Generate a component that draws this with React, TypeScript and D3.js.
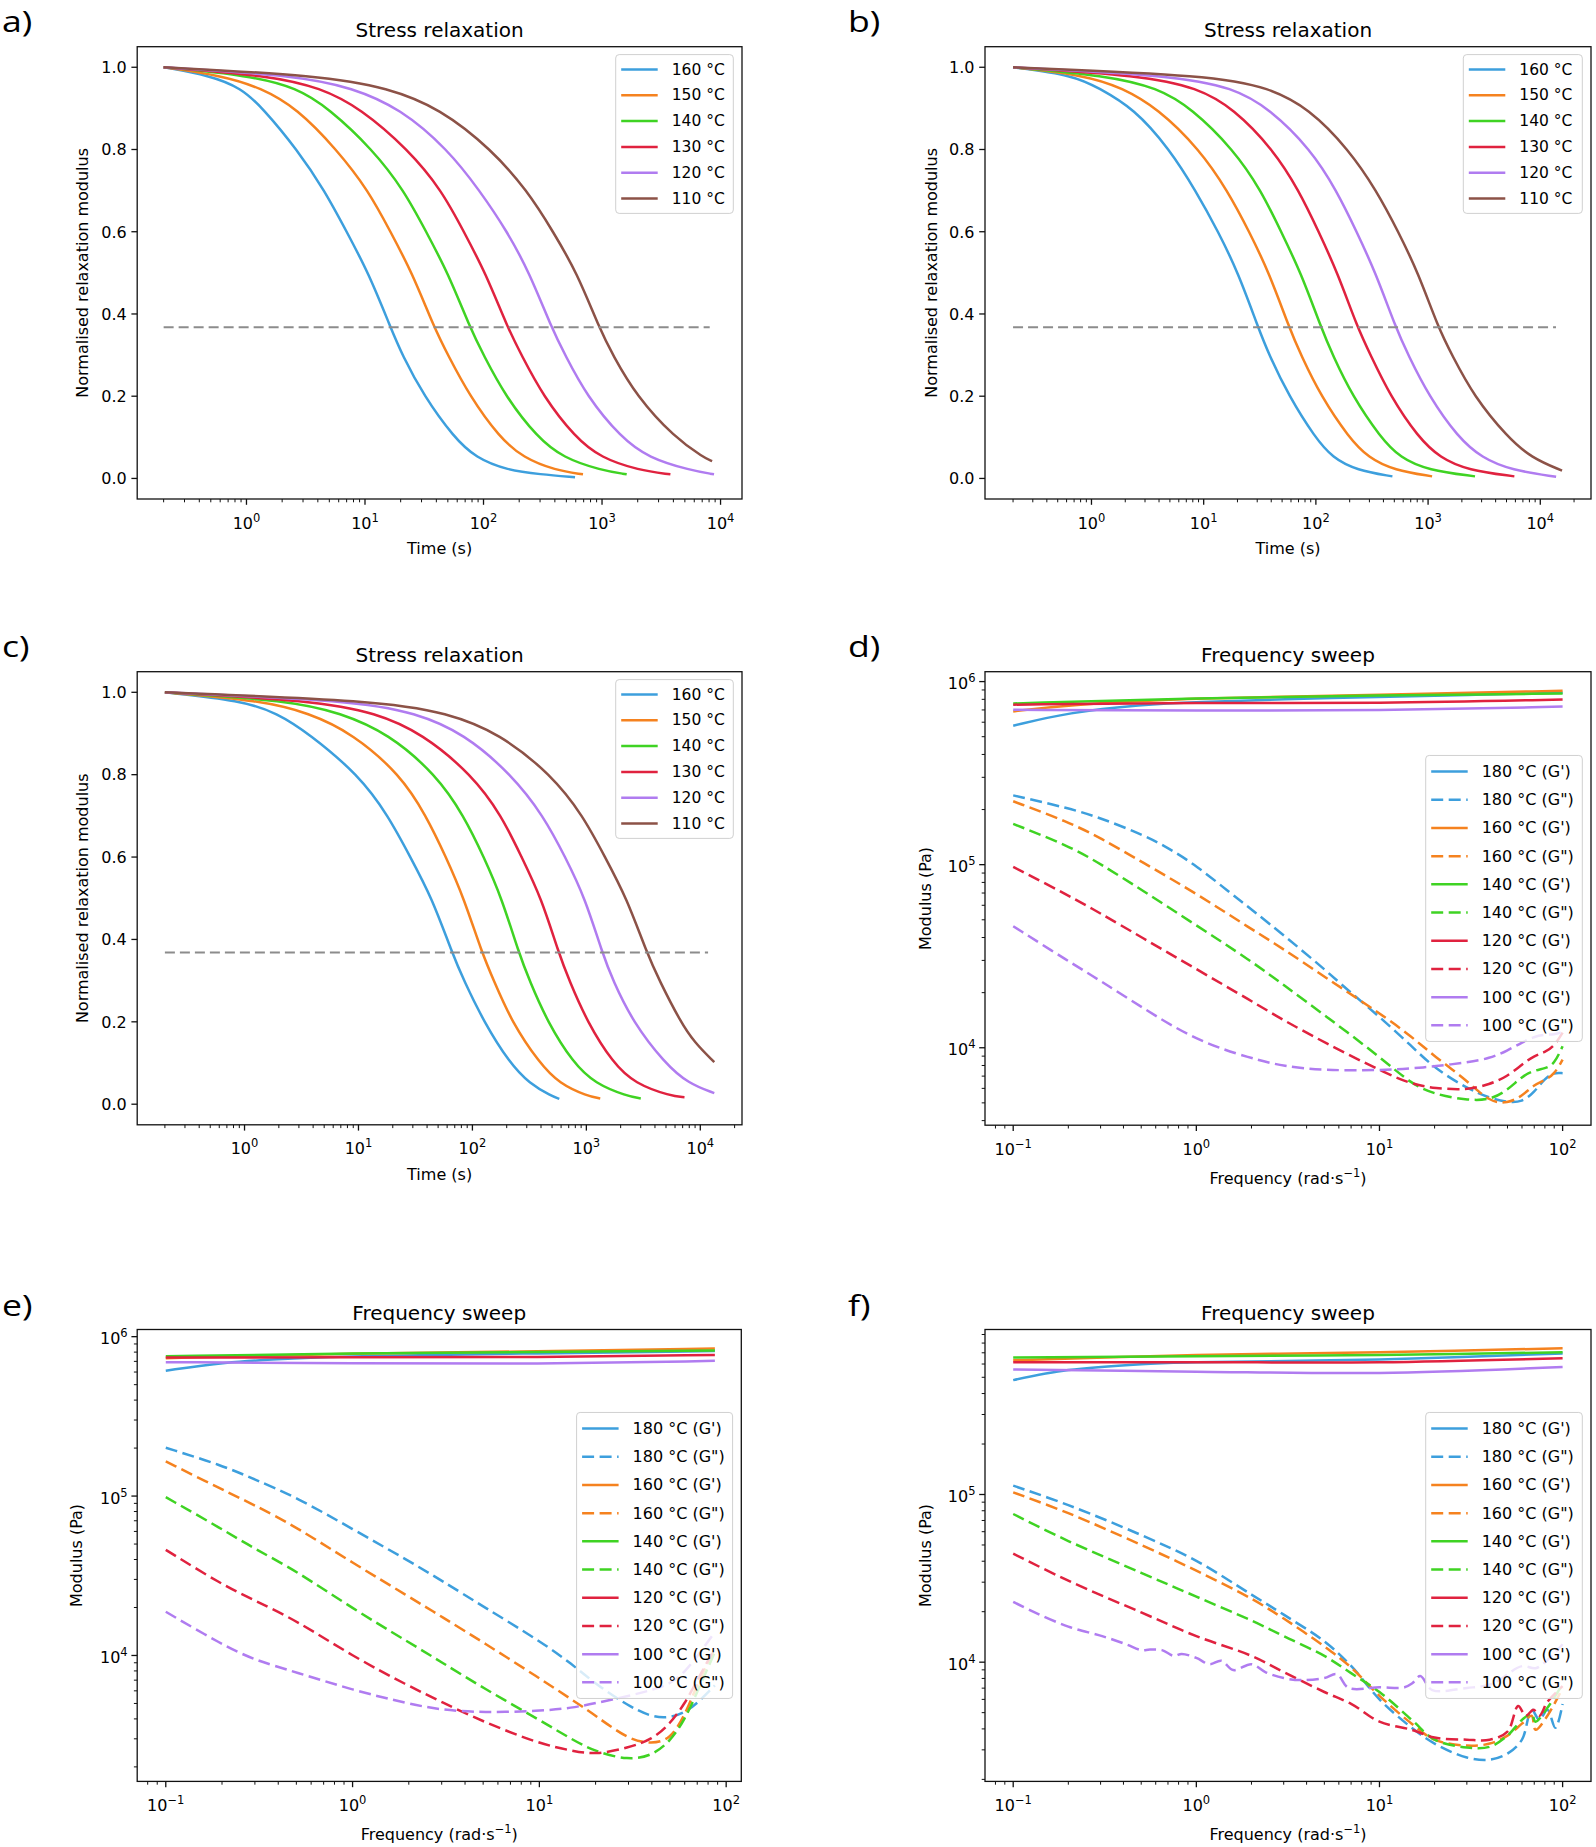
import React from 'react';
import * as d3 from 'd3';

type Pt = [number, number];

// ---------- labels / categories ----------
const RELAX_LABELS = ['160 °C', '150 °C', '140 °C', '130 °C', '120 °C', '110 °C'];
const RELAX_COLORS = ['#3d9fdd', '#f5821f', '#3fd323', '#e0223f', '#b07cf0', '#8c5247'];
const SWEEP_TEMPS = ['180 °C', '160 °C', '140 °C', '120 °C', '100 °C'];
const SWEEP_COLORS = ['#3d9fdd', '#f5821f', '#3fd323', '#e0223f', '#b07cf0'];

const RELAX_Y_TICKS = [0, 0.2, 0.4, 0.6, 0.8, 1.0];
const TIME_TICKS = [1, 10, 100, 1000, 10000];
const FREQ_TICKS = [0.1, 1, 10, 100];
const MOD_TICKS = [1e4, 1e5, 1e6];

// ---------- stress relaxation data: [time (s), normalised modulus] ----------
const relaxA: Pt[][] = [
  [[0.2, 1], [0.49, 0.98], [0.9, 0.95], [1.38, 0.9], [2.67, 0.8], [4.57, 0.7], [7.0, 0.6], [10.7, 0.5], [16.4, 0.368], [20.6, 0.3], [31.5, 0.2], [56.2, 0.1], [86, 0.05], [159, 0.02], [300, 0.01], [592, 0.003]],
  [[0.2, 1], [0.615, 0.98], [1.33, 0.95], [2.67, 0.9], [5.77, 0.8], [10.7, 0.7], [16.4, 0.6], [25, 0.5], [38.2, 0.368], [50.1, 0.3], [76.6, 0.2], [136, 0.1], [217, 0.05], [403, 0.02], [691, 0.01]],
  [[0.2, 1], [1.055, 0.98], [2.67, 0.95], [4.94, 0.9], [11.6, 0.8], [21.4, 0.7], [32.8, 0.6], [50.1, 0.5], [76.6, 0.368], [100, 0.3], [153, 0.2], [284, 0.1], [470, 0.05], [978, 0.02], [1615, 0.01]],
  [[0.2, 1], [1.55, 0.98], [4.24, 0.95], [9.16, 0.9], [23.1, 0.8], [44.6, 0.7], [68.2, 0.6], [104, 0.5], [159, 0.368], [209, 0.3], [319, 0.2], [592, 0.1], [978, 0.05], [2036, 0.02], [3776, 0.01]],
  [[0.2, 1], [2.67, 0.98], [7.85, 0.95], [19.8, 0.9], [50.1, 0.8], [92.9, 0.7], [159, 0.6], [244, 0.5], [373, 0.368], [488, 0.3], [746, 0.2], [1439, 0.1], [2471, 0.05], [5554, 0.02], [8810, 0.01]],
  [[0.2, 1], [4.24, 0.98], [15.7, 0.95], [42.9, 0.9], [117, 0.8], [234, 0.7], [387, 0.6], [615, 0.5], [941, 0.368], [1233, 0.3], [1959, 0.2], [4076, 0.1], [7280, 0.05], [8490, 0.042]],
];
const relaxB: Pt[][] = [
  [[0.2, 1], [0.7, 0.98], [1.15, 0.95], [2.39, 0.9], [4.99, 0.8], [8.47, 0.7], [13.5, 0.6], [20.3, 0.5], [30.5, 0.368], [38.3, 0.3], [57.6, 0.2], [98, 0.1], [141, 0.05], [231, 0.02], [481, 0.005]],
  [[0.2, 1], [0.9, 0.98], [1.875, 0.95], [3.9, 0.9], [9.2, 0.8], [16.3, 0.7], [25.5, 0.6], [38.3, 0.5], [57.6, 0.368], [73.6, 0.3], [111, 0.2], [196, 0.1], [294, 0.05], [500, 0.02], [1086, 0.005]],
  [[0.2, 1], [1.35, 0.98], [3.9, 0.95], [7.81, 0.9], [18.4, 0.8], [32.6, 0.7], [49, 0.6], [73.6, 0.5], [111, 0.368], [141, 0.3], [212, 0.2], [376, 0.1], [565, 0.05], [1000, 0.02], [2620, 0.005]],
  [[0.2, 1], [2.82, 0.98], [8.83, 0.95], [18.4, 0.9], [41.6, 0.8], [70.7, 0.7], [106, 0.6], [156, 0.5], [234, 0.368], [307, 0.3], [461, 0.2], [816, 0.1], [1278, 0.05], [2264, 0.02], [5875, 0.005]],
  [[0.2, 1], [5.41, 0.98], [18.4, 0.95], [38.3, 0.9], [90.2, 0.8], [153, 0.7], [231, 0.6], [341, 0.5], [513, 0.368], [665, 0.3], [1017, 0.2], [1845, 0.1], [3010, 0.05], [5550, 0.02], [13840, 0.004]],
  [[0.2, 1], [12.2, 0.98], [38.3, 0.95], [86.6, 0.9], [196, 0.8], [347, 0.7], [543, 0.6], [816, 0.5], [1227, 0.368], [1633, 0.3], [2558, 0.2], [5113, 0.1], [8350, 0.05], [15630, 0.019]],
];
const relaxC: Pt[][] = [
  [[0.2, 1], [0.94, 0.98], [1.93, 0.95], [3.67, 0.9], [10, 0.8], [18.3, 0.7], [28.5, 0.6], [44.3, 0.5], [66.2, 0.368], [84.2, 0.3], [126, 0.2], [212, 0.1], [317, 0.05], [493, 0.02], [579, 0.013]],
  [[0.2, 1], [1.4, 0.98], [3.67, 0.95], [8.89, 0.9], [23.3, 0.8], [39.3, 0.7], [58.6, 0.6], [84.2, 0.5], [121, 0.368], [154, 0.3], [221, 0.2], [387, 0.1], [579, 0.05], [1016, 0.02], [1324, 0.014]],
  [[0.2, 1], [2.46, 0.98], [6.98, 0.95], [18.3, 0.9], [48, 0.8], [84.2, 0.7], [126, 0.6], [181, 0.5], [255, 0.368], [317, 0.3], [455, 0.2], [767, 0.1], [1193, 0.05], [2265, 0.02], [3004, 0.014]],
  [[0.2, 1], [3.98, 0.98], [14.4, 0.95], [36.2, 0.9], [98.9, 0.8], [181, 0.7], [270, 0.6], [404, 0.5], [570, 0.368], [708, 0.3], [1016, 0.2], [1711, 0.1], [2663, 0.05], [5483, 0.02], [7265, 0.017]],
  [[0.2, 1], [8.89, 0.98], [32.1, 0.95], [84.2, 0.9], [221, 0.8], [420, 0.7], [653, 0.6], [976, 0.5], [1377, 0.368], [1711, 0.3], [2557, 0.2], [4862, 0.1], [7872, 0.05], [13270, 0.027]],
  [[0.2, 1], [14.4, 0.98], [61.1, 0.95], [173, 0.9], [493, 0.8], [937, 0.7], [1458, 0.6], [2265, 0.5], [3388, 0.368], [4380, 0.3], [6703, 0.2], [8879, 0.15], [13270, 0.102]],
];
const thresholdA: Pt[] = [[0.2, 0.368], [8100, 0.368]];
const thresholdB: Pt[] = [[0.2, 0.368], [13800, 0.368]];
const thresholdC: Pt[] = [[0.2, 0.368], [11700, 0.368]];

// ---------- frequency sweep data: [frequency (rad/s), modulus (Pa)] ----------
const sweepD_Gp: Pt[][] = [
  [[0.1, 574e3], [0.2, 678e3], [0.5, 748e3], [1, 775e3], [3, 800e3], [10, 826e3], [30, 845e3], [100, 869e3]],
  [[0.1, 687e3], [0.2, 748e3], [1, 815e3], [10, 847e3], [100, 891e3]],
  [[0.1, 759e3], [1, 815e3], [10, 840e3], [100, 861e3]],
  [[0.1, 748e3], [1, 768e3], [10, 759e3], [100, 798e3]],
  [[0.1, 701e3], [1, 694e3], [10, 694e3], [100, 730e3]],
];
const sweepD_Gpp: Pt[][] = [
  [[0.1, 239e3], [0.2, 204e3], [0.3, 180e3], [0.5, 147e3], [0.7, 124e3], [1, 98.8e3], [1.5, 71.3e3], [2, 57e3], [3, 41.2e3], [5, 26.9e3], [7, 19.9e3], [10, 14.8e3], [15, 10.2e3], [20, 7.71e3], [30, 6.01e3], [40, 5.3e3], [50, 5.04e3], [60, 5.04e3], [70, 5.71e3], [80, 6.81e3], [90, 7.33e3], [100, 7.26e3]],
  [[0.1, 222e3], [0.2, 171e3], [0.3, 140e3], [0.5, 104e3], [1, 69.6e3], [2, 44.4e3], [3, 34.6e3], [5, 24.4e3], [10, 15.5e3], [15, 11.5e3], [20, 8.96e3], [30, 6.64e3], [40, 5.04e3], [50, 4.97e3], [60, 5.43e3], [70, 6.31e3], [80, 6.64e3], [90, 7.16e3], [100, 8.6e3]],
  [[0.1, 167e3], [0.2, 127e3], [0.3, 101e3], [0.5, 73.1e3], [1, 46.6e3], [2, 29.7e3], [3, 22e3], [5, 15.1e3], [10, 8.96e3], [15, 6.31e3], [20, 5.57e3], [30, 5.17e3], [40, 5.17e3], [50, 5.86e3], [60, 6.98e3], [70, 7.52e3], [80, 7.71e3], [90, 8.11e3], [100, 10.2e3]],
  [[0.1, 97.3e3], [0.2, 67.9e3], [0.3, 54.2e3], [0.5, 40.2e3], [1, 26.9e3], [2, 18e3], [3, 14.1e3], [5, 10.7e3], [10, 7.52e3], [15, 6.31e3], [20, 6.01e3], [30, 5.86e3], [40, 6.31e3], [50, 6.98e3], [60, 8.11e3], [70, 9.05e3], [80, 9.42e3], [90, 10.2e3], [100, 12.1e3]],
  [[0.1, 46.1e3], [0.2, 29.7e3], [0.3, 23.2e3], [0.5, 16.7e3], [1, 10.9e3], [2, 8.74e3], [3, 7.91e3], [5, 7.52e3], [10, 7.52e3], [15, 7.71e3], [20, 7.91e3], [30, 8.31e3], [40, 8.74e3], [50, 9.65e3], [60, 10.7e3], [70, 11.5e3], [80, 11.8e3], [90, 11.8e3], [100, 12.2e3]],
];
const sweepE_Gp: Pt[][] = [
  [[0.1, 611e3], [0.2, 692e3], [0.5, 733e3], [1, 755e3], [10, 786e3], [87, 813e3]],
  [[0.1, 733e3], [1, 786e3], [10, 809e3], [87, 842e3]],
  [[0.1, 755e3], [1, 786e3], [10, 800e3], [87, 820e3]],
  [[0.1, 740e3], [1, 742e3], [10, 742e3], [87, 768e3]],
  [[0.1, 692e3], [1, 681e3], [10, 673e3], [87, 705e3]],
];
const sweepE_Gpp: Pt[][] = [
  [[0.1, 201e3], [0.2, 156e3], [0.3, 127e3], [0.5, 98.4e3], [1, 62.1e3], [2, 39.2e3], [3, 29.5e3], [5, 20.3e3], [10, 12.4e3], [15, 8.81e3], [20, 6.61e3], [30, 4.82e3], [40, 4.1e3], [50, 4.06e3], [60, 4.4e3], [70, 5.0e3], [87, 6.5e3]],
  [[0.1, 165e3], [0.2, 110e3], [0.3, 87.6e3], [0.5, 63.9e3], [1, 38.1e3], [2, 23.4e3], [3, 17.5e3], [5, 12.1e3], [10, 7.21e3], [15, 5.26e3], [20, 4.2e3], [30, 2.96e3], [40, 2.79e3], [50, 2.96e3], [60, 4.18e3], [70, 6.61e3], [87, 11.1e3]],
  [[0.1, 98.4e3], [0.2, 62.1e3], [0.3, 46.6e3], [0.5, 33.9e3], [1, 19.7e3], [2, 12.1e3], [3, 9.07e3], [5, 6.25e3], [10, 3.95e3], [15, 2.96e3], [20, 2.49e3], [30, 2.2e3], [40, 2.35e3], [50, 2.88e3], [60, 3.95e3], [70, 5.89e3], [87, 10.5e3]],
  [[0.1, 46e3], [0.2, 27.8e3], [0.3, 22.1e3], [0.5, 16.6e3], [1, 9.89e3], [2, 6.43e3], [3, 5.1e3], [5, 3.84e3], [10, 2.79e3], [15, 2.52e3], [20, 2.38e3], [30, 2.64e3], [40, 2.96e3], [50, 3.72e3], [60, 4.97e3], [70, 7e3], [87, 11.1e3]],
  [[0.1, 18.8e3], [0.2, 11.7e3], [0.3, 9.33e3], [0.5, 7.85e3], [1, 6.07e3], [2, 4.97e3], [3, 4.55e3], [5, 4.38e3], [10, 4.48e3], [15, 4.69e3], [20, 5.02e3], [30, 5.57e3], [40, 6.07e3], [50, 6.61e3], [60, 7.85e3], [70, 9.89e3], [87, 14e3]],
];
const sweepF_Gp: Pt[][] = [
  [[0.1, 481e3], [0.2, 552e3], [0.5, 599e3], [1, 615e3], [10, 639e3], [100, 693e3]],
  [[0.1, 632e3], [1, 679e3], [10, 705e3], [100, 745e3]],
  [[0.1, 657e3], [1, 668e3], [10, 679e3], [100, 705e3]],
  [[0.1, 615e3], [1, 615e3], [10, 615e3], [100, 650e3]],
  [[0.1, 557e3], [1, 540e3], [10, 531e3], [100, 576e3]],
];
const sweepF_Gpp: Pt[][] = [
  [[0.1, 113e3], [0.2, 86.4e3], [0.5, 57.3e3], [1, 40.2e3], [2, 25.3e3], [3, 19.2e3], [5, 13.3e3], [7, 9.5e3], [10, 6.0e3], [15, 4.06e3], [20, 3.27e3], [30, 2.7e3], [40, 2.62e3], [50, 2.85e3], [60, 3.45e3], [67.7, 5.2e3], [74.7, 4.53e3], [82.6, 5.2e3], [91.3, 4.06e3], [100, 5.64e3]],
  [[0.1, 103e3], [0.2, 77.4e3], [0.5, 50e3], [1, 35.1e3], [2, 23.9e3], [3, 18.2e3], [5, 12.4e3], [7, 9.3e3], [10, 6.3e3], [15, 4.3e3], [20, 3.45e3], [30, 3.18e3], [40, 3.27e3], [50, 3.65e3], [60, 4.3e3], [67.7, 4.79e3], [71.1, 3.95e3], [82.6, 4.79e3], [100, 7.02e3]],
  [[0.1, 76.5e3], [0.2, 52.8e3], [0.5, 34.1e3], [1, 24.6e3], [2, 17.7e3], [3, 14.3e3], [5, 10.9e3], [7, 8.6e3], [10, 6.64e3], [15, 4.53e3], [20, 3.45e3], [30, 3.1e3], [40, 3.13e3], [50, 3.65e3], [60, 4.53e3], [67.7, 4.92e3], [71.1, 4.42e3], [82.6, 5.34e3], [100, 7.41e3]],
  [[0.1, 44.4e3], [0.2, 30.6e3], [0.5, 19.8e3], [1, 14.3e3], [2, 10.9e3], [3, 8.73e3], [5, 6.64e3], [7, 5.64e3], [10, 4.42e3], [15, 3.95e3], [20, 3.55e3], [30, 3.45e3], [40, 3.45e3], [50, 3.85e3], [57.2, 5.48e3], [62.8, 4.79e3], [69.4, 5.2e3], [74.7, 4.79e3], [82.6, 5.8e3], [100, 7.2e3]],
  [[0.1, 22.9e3], [0.131, 19.8e3], [0.2, 16.3e3], [0.306, 14.3e3], [0.413, 12.8e3], [0.5, 11.8e3], [0.558, 11.9e3], [0.649, 11.8e3], [0.754, 10.9e3], [0.832, 11.2e3], [1, 10.6e3], [1.18, 9.73e3], [1.37, 10.2e3], [1.59, 8.97e3], [2, 9.73e3], [2.38, 8.73e3], [3, 8.04e3], [3.72, 7.82e3], [5, 8.04e3], [5.85, 8.49e3], [6.79, 7.02e3], [10, 7.08e3], [13.7, 7.08e3], [15.1, 7.48e3], [16.7, 8.26e3], [19.4, 6.82e3], [30, 7.02e3], [41, 7.41e3], [60, 9.47e3], [71.1, 9.2e3], [82.6, 10.3e3], [100, 12.8e3]],
];

// ---------- layout ----------
const FONT = "'DejaVu Sans', 'Noto Sans', sans-serif";
const LETTER_FONT = "'Open Sans', 'Lato', sans-serif";

interface PanelCfg {
  letter: string; lx: number; ly: number;
  left: number; top: number; right: number; bottom: number;
  kind: 'relax' | 'sweep';
  xLog: [number, number]; yDom: [number, number];
  title: string; yLabel: string; yLabelX: number;
  relax?: Pt[][]; threshold?: Pt[];
  gp?: Pt[][]; gpp?: Pt[][];
  legendW: number; legendFont: number; legendRow: number;
  jagged?: boolean;
}

const PANELS: PanelCfg[] = [
  { letter: 'a)', lx: 2, ly: 32, left: 137.2, top: 46.7, right: 742, bottom: 499, kind: 'relax', xLog: [-0.922, 4.181], yDom: [-0.05, 1.05], title: 'Stress relaxation', yLabel: 'Normalised relaxation modulus', yLabelX: 88, relax: relaxA, threshold: thresholdA, legendW: 117.6, legendFont: 15.5, legendRow: 25.8 },
  { letter: 'b)', lx: 848, ly: 32, left: 985, top: 46.7, right: 1591, bottom: 499, kind: 'relax', xLog: [-0.949, 4.452], yDom: [-0.05, 1.05], title: 'Stress relaxation', yLabel: 'Normalised relaxation modulus', yLabelX: 937, relax: relaxB, threshold: thresholdB, legendW: 119, legendFont: 15.5, legendRow: 25.8 },
  { letter: 'c)', lx: 2, ly: 657, left: 137.2, top: 671.7, right: 742, bottom: 1124.8, kind: 'relax', xLog: [-0.942, 4.366], yDom: [-0.05, 1.05], title: 'Stress relaxation', yLabel: 'Normalised relaxation modulus', yLabelX: 88, relax: relaxC, threshold: thresholdC, legendW: 117.6, legendFont: 15.5, legendRow: 25.8 },
  { letter: 'd)', lx: 848, ly: 657, left: 985, top: 671.7, right: 1591, bottom: 1125.2, kind: 'sweep', xLog: [-1.154, 2.155], yDom: [3.577, 6.054], title: 'Frequency sweep', yLabel: 'Modulus (Pa)', yLabelX: 931, gp: sweepD_Gp, gpp: sweepD_Gpp, legendW: 156.6, legendFont: 16, legendRow: 28.2 },
  { letter: 'e)', lx: 2, ly: 1315.5, left: 137.2, top: 1329.5, right: 741.3, bottom: 1781.4, kind: 'sweep', xLog: [-1.153, 2.081], yDom: [3.21, 6.045], title: 'Frequency sweep', yLabel: 'Modulus (Pa)', yLabelX: 82, gp: sweepE_Gp, gpp: sweepE_Gpp, legendW: 156, legendFont: 16, legendRow: 28.2 },
  { letter: 'f)', lx: 848, ly: 1315.5, left: 985, top: 1329.5, right: 1591, bottom: 1781.4, kind: 'sweep', xLog: [-1.154, 2.155], yDom: [3.289, 5.984], title: 'Frequency sweep', yLabel: 'Modulus (Pa)', yLabelX: 931, gp: sweepF_Gp, gpp: sweepF_Gpp, legendW: 156.6, legendFont: 16, legendRow: 28.2, jagged: true },
];

function minorLogTicks(lo: number, hi: number): number[] {
  const out: number[] = [];
  for (let k = Math.floor(lo) - 1; k <= Math.ceil(hi); k++) {
    for (let m = 2; m <= 9; m++) {
      const v = m * Math.pow(10, k);
      const lv = Math.log10(v);
      if (lv >= lo && lv <= hi) out.push(v);
    }
  }
  return out;
}

function expStr(v: number): string {
  const e = Math.round(Math.log10(v));
  return e < 0 ? '\u2212' + Math.abs(e) : String(e);
}

function Panel({ cfg, idx }: { cfg: PanelCfg; idx: number }) {
  const xs = d3.scaleLog().domain([Math.pow(10, cfg.xLog[0]), Math.pow(10, cfg.xLog[1])]).range([cfg.left, cfg.right]);
  const isRelax = cfg.kind === 'relax';
  const ys: any = isRelax
    ? d3.scaleLinear().domain(cfg.yDom).range([cfg.bottom, cfg.top])
    : d3.scaleLog().domain([Math.pow(10, cfg.yDom[0]), Math.pow(10, cfg.yDom[1])]).range([cfg.bottom, cfg.top]);
  const curve = cfg.jagged ? d3.curveCatmullRom.alpha(0.5) : d3.curveBasis;
  const line = d3.line<Pt>().x(d => xs(d[0])).y(d => ys(d[1])).curve(curve);
  const clipId = `clip-${idx}`;
  const cx = (cfg.left + cfg.right) / 2;
  const cy = (cfg.top + cfg.bottom) / 2;

  const xMajor = (isRelax ? TIME_TICKS : FREQ_TICKS).filter(v => {
    const l = Math.log10(v); return l >= cfg.xLog[0] && l <= cfg.xLog[1];
  });
  const xMinor = minorLogTicks(cfg.xLog[0], cfg.xLog[1]);
  const yMajor = isRelax ? RELAX_Y_TICKS : MOD_TICKS.filter(v => {
    const l = Math.log10(v); return l >= cfg.yDom[0] && l <= cfg.yDom[1];
  });
  const yMinor = isRelax ? [] : minorLogTicks(cfg.yDom[0], cfg.yDom[1]);

  const lw = 2.5;
  const dash = '12,5.5';

  type Entry = { label: string; color: string; dashed: boolean };
  const entries: Entry[] = isRelax
    ? RELAX_LABELS.map((l, i) => ({ label: l, color: RELAX_COLORS[i], dashed: false }))
    : SWEEP_TEMPS.flatMap((t, i) => [
        { label: `${t} (G')`, color: SWEEP_COLORS[i], dashed: false },
        { label: `${t} (G")`, color: SWEEP_COLORS[i], dashed: true },
      ]);
  const legH = entries.length * cfg.legendRow + 4;
  const legX = cfg.right - 8.7 - cfg.legendW;
  const legY = isRelax ? cfg.top + 7.9 : cy - legH / 2;

  return (
    <g>
      <defs>
        <clipPath id={clipId}>
          <rect x={cfg.left} y={cfg.top} width={cfg.right - cfg.left} height={cfg.bottom - cfg.top} />
        </clipPath>
      </defs>
      <text transform={`translate(${cfg.lx},${cfg.ly}) scale(1.25,1)`} fontFamily={LETTER_FONT} fontSize={28.5} fill="#000">{cfg.letter}</text>
      <text x={cx} y={cfg.top - 10} textAnchor="middle" fontFamily={FONT} fontSize={20} fill="#000">{cfg.title}</text>

      <g clipPath={`url(#${clipId})`}>
        {isRelax && cfg.relax!.map((s, i) => (
          <path key={i} d={line(s) || ''} fill="none" stroke={RELAX_COLORS[i]} strokeWidth={lw} strokeLinejoin="round" />
        ))}
        {isRelax && (
          <path d={line(cfg.threshold!) || ''} fill="none" stroke="#8c8c8c" strokeWidth={2} strokeDasharray="10,5" />
        )}
        {!isRelax && cfg.gp!.map((s, i) => (
          <g key={i}>
            <path d={line(s) || ''} fill="none" stroke={SWEEP_COLORS[i]} strokeWidth={lw} strokeLinejoin="round" />
            <path d={line(cfg.gpp![i]) || ''} fill="none" stroke={SWEEP_COLORS[i]} strokeWidth={lw} strokeDasharray={dash} strokeLinejoin="round" />
          </g>
        ))}
      </g>

      <rect x={cfg.left} y={cfg.top} width={cfg.right - cfg.left} height={cfg.bottom - cfg.top} fill="none" stroke="#111" strokeWidth={1.3} />

      {xMinor.map((v, i) => (
        <line key={'xm' + i} x1={xs(v)} x2={xs(v)} y1={cfg.bottom} y2={cfg.bottom + 3.3} stroke="#111" strokeWidth={1} />
      ))}
      {xMajor.map((v, i) => (
        <g key={'xM' + i}>
          <line x1={xs(v)} x2={xs(v)} y1={cfg.bottom} y2={cfg.bottom + 5.8} stroke="#111" strokeWidth={1.3} />
          <text x={xs(v)} y={cfg.bottom + 29.5} textAnchor="middle" fontFamily={FONT} fontSize={16} fill="#000">
            10<tspan dy={-7} fontSize={11.5}>{expStr(v)}</tspan>
          </text>
        </g>
      ))}

      {yMinor.map((v, i) => (
        <line key={'ym' + i} x1={cfg.left - 3.3} x2={cfg.left} y1={ys(v)} y2={ys(v)} stroke="#111" strokeWidth={1} />
      ))}
      {yMajor.map((v, i) => (
        <g key={'yM' + i}>
          <line x1={cfg.left - 5.8} x2={cfg.left} y1={ys(v)} y2={ys(v)} stroke="#111" strokeWidth={1.3} />
          {isRelax ? (
            <text x={cfg.left - 10.5} y={ys(v) + 5.8} textAnchor="end" fontFamily={FONT} fontSize={16} fill="#000">{v.toFixed(1)}</text>
          ) : (
            <text x={cfg.left - 9.5} y={ys(v) + 7.5} textAnchor="end" fontFamily={FONT} fontSize={16} fill="#000">
              10<tspan dy={-7} fontSize={11.5}>{expStr(v)}</tspan>
            </text>
          )}
        </g>
      ))}

      {isRelax ? (
        <text x={cx} y={cfg.bottom + 55} textAnchor="middle" fontFamily={FONT} fontSize={16} fill="#000">Time (s)</text>
      ) : (
        <text x={cx} y={cfg.bottom + 59} textAnchor="middle" fontFamily={FONT} fontSize={16} fill="#000">
          Frequency (rad·s<tspan dy={-7} fontSize={11.5}>{'\u22121'}</tspan><tspan dy={7}>)</tspan>
        </text>
      )}
      <text transform={`translate(${cfg.yLabelX},${cy}) rotate(-90)`} textAnchor="middle" fontFamily={FONT} fontSize={16} fill="#000">{cfg.yLabel}</text>

      <g>
        <rect x={legX} y={legY} width={cfg.legendW} height={legH} rx={3.5} ry={3.5} fill="#fff" fillOpacity={0.8} stroke="#d0d0d0" strokeWidth={1} />
        {entries.map((e, i) => {
          const ry = legY + 2 + cfg.legendRow * (i + 0.5);
          return (
            <g key={'l' + i}>
              <line x1={legX + 5.5} x2={legX + 42} y1={ry} y2={ry} stroke={e.color} strokeWidth={lw} strokeDasharray={e.dashed ? dash : undefined} />
              <text x={legX + 56} y={ry} dominantBaseline="central" fontFamily={FONT} fontSize={cfg.legendFont} fill="#000">{e.label}</text>
            </g>
          );
        })}
      </g>
    </g>
  );
}

export default function App() {
  return (
    <svg width={1596} height={1847} viewBox="0 0 1596 1847" style={{ position: 'absolute', left: 0, top: 0, background: '#fff' }}>
      <rect x={0} y={0} width={1596} height={1847} fill="#fff" />
      {PANELS.map((p, i) => <Panel key={i} cfg={p} idx={i} />)}
    </svg>
  );
}
